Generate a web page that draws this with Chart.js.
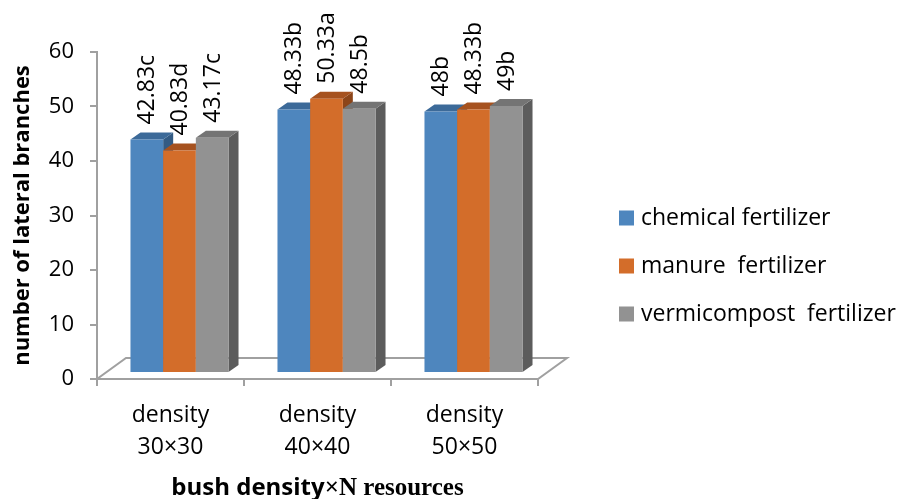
<!DOCTYPE html>
<html>
<head>
<meta charset="utf-8">
<script src="https://cdn.jsdelivr.net/npm/chart.js@4.4.1/dist/chart.umd.min.js"></script>
<style>
  html, body { margin: 0; padding: 0; background: #ffffff; }
  canvas { display: block; }
</style>
</head>
<body>
<canvas id="chart" width="901" height="499"></canvas>
<script>
// Lateral branches per bush density and fertilizer source
const categories = [["density", "30×30"], ["density", "40×40"], ["density", "50×50"]];
const seriesNames = ["chemical fertilizer", "manure  fertilizer", "vermicompost  fertilizer"];
const chemical = [42.83, 48.33, 48];
const manure = [40.83, 50.33, 48.33];
const vermicompost = [43.17, 48.5, 49];
const chemicalLetters = ["c", "b", "b"];
const manureLetters = ["d", "a", "b"];
const vermicompostLetters = ["c", "b", "b"];
const yTickMin = 0, yTickMax = 60, yTickStep = 10;
const yTitle = "number of lateral branches";
const xTitleSans = "bush density";
const xTitleSerif = "×N resources";

const FONT = "'Open Sans', 'Noto Sans', sans-serif";
const SERIF = "'Liberation Serif', 'DejaVu Serif', serif";
const AXIS = "#a0a0a0";

// front / top / side shades of each box
const shades = [
  { front: "#4e86be", top: "#3c6a99", side: "#335b84" },
  { front: "#d36d2a", top: "#a6521f", side: "#8c4519" },
  { front: "#929292", top: "#747474", side: "#5c5c5c" }
];
const seriesLetters = [chemicalLetters, manureLetters, vermicompostLetters];

// perspective offsets (pixels)
const FLOOR_DX = 29, FLOOR_DY = -21;
const FRONT_DX = 9, FRONT_DY = -6;
const DEPTH_DX = 10, DEPTH_DY = -7;

function poly(ctx, pts, fill) {
  ctx.beginPath();
  ctx.moveTo(pts[0][0], pts[0][1]);
  for (let k = 1; k < pts.length; k++) ctx.lineTo(pts[k][0], pts[k][1]);
  ctx.closePath();
  ctx.fillStyle = fill;
  ctx.fill();
}

const boxes3d = {
  id: "boxes3d",
  beforeDatasetsDraw(chart) {
    const { ctx, chartArea: a, scales } = chart;
    const y0 = scales.y.getPixelForValue(0);
    ctx.save();
    // floor
    ctx.beginPath();
    ctx.moveTo(a.left, y0);
    ctx.lineTo(a.right, y0);
    ctx.lineTo(a.right + FLOOR_DX, y0 + FLOOR_DY);
    ctx.lineTo(a.left + FLOOR_DX, y0 + FLOOR_DY);
    ctx.closePath();
    ctx.fillStyle = "#ffffff";
    ctx.fill();
    ctx.strokeStyle = AXIS;
    ctx.lineWidth = 2;
    ctx.stroke();

    const n = chart.data.labels.length;
    for (let i = 0; i < n; i++) {
      chart.data.datasets.forEach((ds, d) => {
        const el = chart.getDatasetMeta(d).data[i];
        const p = el.getProps(["x", "y", "base", "width"], true);
        const l = p.x - p.width / 2 + FRONT_DX;
        const r = p.x + p.width / 2 + FRONT_DX;
        const t = p.y + FRONT_DY;
        const b = p.base + FRONT_DY;
        const s = shades[d];
        poly(ctx, [[r, t], [r + DEPTH_DX, t + DEPTH_DY], [r + DEPTH_DX, b + DEPTH_DY], [r, b]], s.side);
        poly(ctx, [[l, t], [l + DEPTH_DX, t + DEPTH_DY], [r + DEPTH_DX, t + DEPTH_DY], [r, t]], s.top);
        poly(ctx, [[l, t], [r, t], [r, b], [l, b]], s.front);
      });
    }
    ctx.restore();
    return false;
  },
  afterDraw(chart) {
    const { ctx, chartArea: a } = chart;
    ctx.save();
    // value labels, written upward above each box
    ctx.fillStyle = "#000000";
    ctx.font = "23px " + FONT;
    ctx.textAlign = "left";
    ctx.textBaseline = "middle";
    chart.data.datasets.forEach((ds, d) => {
      chart.getDatasetMeta(d).data.forEach((el, i) => {
        const p = el.getProps(["x", "y"], true);
        const cx = p.x + FRONT_DX + 1;
        const cy = p.y + FRONT_DY + DEPTH_DY - 8;
        ctx.save();
        ctx.translate(cx, cy);
        ctx.rotate(-Math.PI / 2);
        ctx.fillText(String(ds.data[i]) + seriesLetters[d][i], 0, 0);
        ctx.restore();
      });
    });

    // legend
    const rows = [218, 266, 314];
    ctx.font = "23px " + FONT;
    chart.data.datasets.forEach((ds, d) => {
      ctx.fillStyle = shades[d].front;
      ctx.fillRect(619, rows[d] - 7.5, 15, 15);
      ctx.fillStyle = "#000000";
      ctx.textBaseline = "middle";
      ctx.fillText(ds.label, 641, rows[d]);
    });

    // x axis title (two typefaces)
    const fa = "bold 24px " + FONT;
    const fb = "bold 25px " + SERIF;
    ctx.font = fa;
    const wa = ctx.measureText(xTitleSans).width;
    ctx.font = fb;
    const wb = ctx.measureText(xTitleSerif).width;
    const x0 = (a.left + a.right) / 2 - (wa + wb) / 2;
    ctx.textBaseline = "alphabetic";
    ctx.font = fa;
    ctx.fillText(xTitleSans, x0, 495);
    ctx.font = fb;
    ctx.fillText(xTitleSerif, x0 + wa, 495);
    ctx.restore();
  }
};

new Chart(document.getElementById("chart"), {
  type: "bar",
  data: {
    labels: categories,
    datasets: [
      { label: seriesNames[0], data: chemical, backgroundColor: shades[0].front },
      { label: seriesNames[1], data: manure, backgroundColor: shades[1].front },
      { label: seriesNames[2], data: vermicompost, backgroundColor: shades[2].front }
    ]
  },
  options: {
    responsive: false,
    devicePixelRatio: 1,
    animation: false,
    events: [],
    categoryPercentage: 0.667,
    barPercentage: 1,
    layout: { padding: { top: 52, right: 363, left: 0, bottom: 0 } },
    plugins: {
      legend: { display: false },
      tooltip: { enabled: false }
    },
    scales: {
      x: {
        ticks: { color: "#000000", font: { family: FONT, size: 23, lineHeight: 1.4 }, padding: 13, maxRotation: 0, autoSkip: false },
        grid: { drawOnChartArea: false, drawTicks: true, tickLength: 7, color: AXIS, lineWidth: 2, offset: true },
        border: { display: true, color: AXIS, width: 2 },
        afterFit(s) { s.height = 120; }
      },
      y: {
        min: yTickMin,
        max: yTickMax,
        ticks: { stepSize: yTickStep, color: "#000000", font: { family: FONT, size: 22 }, padding: 16 },
        grid: { drawOnChartArea: false, drawTicks: true, tickLength: 7, color: AXIS, lineWidth: 2 },
        border: { display: true, color: AXIS, width: 2 },
        title: { display: true, text: yTitle, color: "#000000", font: { family: FONT, size: 22, weight: "bold" }, padding: { top: 10, bottom: 0 } },
        afterFit(s) { s.width = 97; }
      }
    }
  },
  plugins: [boxes3d]
});
</script>
</body>
</html>
